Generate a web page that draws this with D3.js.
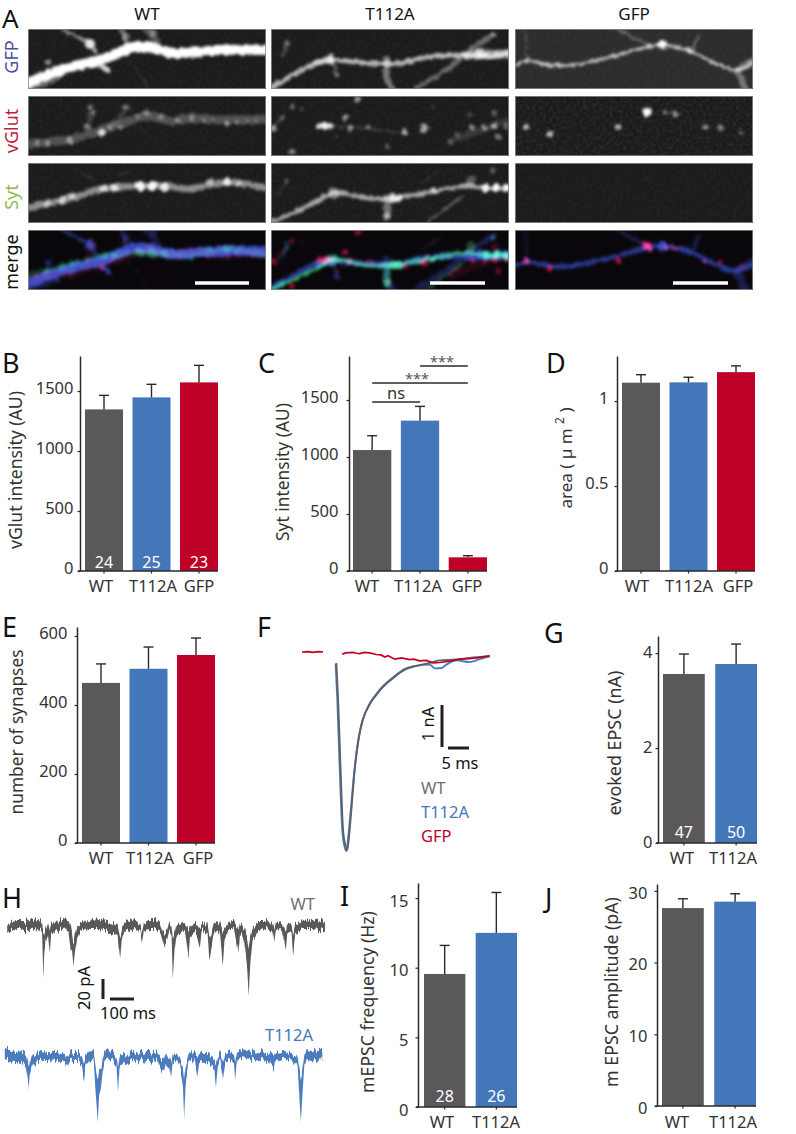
<!DOCTYPE html>
<html><head><meta charset="utf-8">
<script src="https://cdn.jsdelivr.net/npm/d3@7/dist/d3.min.js"></script>
<style>
html,body{margin:0;padding:0;background:#fff}
svg{display:block}
text{font-family:"Noto Sans",sans-serif;fill:#333}
</style></head><body>
<svg id="fig" width="796" height="1134"></svg>
<script>
/* ---------- data ---------- */
const cats3 = ["WT","T112A","GFP"];
const cats2 = ["WT","T112A"];
const vglutMean = [1347,1447,1572], vglutErr = [1464,1556,1714], vglutN = ["24","25","23"];
const sytMean = [1061,1319,120], sytErr = [1187,1444,134];
const areaMean = [1.108,1.11,1.17], areaErr = [1.155,1.14,1.207];
const synMean = [464,505,545], synErr = [519,568,594];
const eEpscMean = [3.56,3.77], eEpscErr = [3.98,4.19], eEpscN = ["47","50"];
const freqMean = [9.55,12.5], freqErr = [11.6,15.4], freqN = ["28","26"];
const ampMean = [27.6,28.5], ampErr = [28.9,29.6];
const ticksB = [0,500,1000,1500], ticksC = [0,500,1000,1500], ticksD = [0,0.5,1],
      ticksE = [0,200,400,600], ticksG = [0,2,4], ticksI = [0,5,10,15], ticksJ = [0,10,20,30];

/* evoked EPSC traces: [ms, nA] */
const epscWT = [[8.18,-.26],[8.57,-1.06],[9.13,-2.64],[9.77,-4.23],[10.4,-4.63],[10.8,-4.71],[11.2,-4.39],[11.75,-3.76],[12.55,-2.8],[13.34,-2.17],[13.9,-1.85],[14.5,-1.61],[16.1,-1.25],[17.7,-1.02],[19.3,-.83],[21.7,-.62],[24.5,-.42],[27.2,-.33],[30.4,-.26],[32.8,-.2],[36.8,-.18],[39.9,-.14],[44.7,-.1]];
const epscT112A = [[8.0,-.28],[8.4,-1.1],[8.95,-2.68],[9.6,-4.25],[10.2,-4.66],[10.6,-4.74],[11.0,-4.42],[11.6,-3.78],[12.5,-2.8],[13.3,-2.15],[13.9,-1.83],[14.5,-1.6],[16.1,-1.23],[17.7,-1.0],[19.3,-.81],[21.7,-.6],[24.5,-.4],[27.2,-.33],[30.4,-.3],[31.6,-.39],[33.2,-.38],[34.4,-.3],[36.8,-.2],[39.9,-.24],[42.3,-.17],[44.7,-.1]];
const epscGFP = [[0,0],[1.5,.01],[2.5,-.01],[4,.01],[5,0],null,[9.6,-.05],[10.4,-.02],[12.15,-.01],[13,-.03],[13.7,-.04],[14.8,-.01],[16.1,-.02],[17.7,-.06],[18.8,-.07],[19.7,-.12],[20.5,-.09],[21.3,-.13],[22.1,-.17],[23.7,-.14],[25.6,-.18],[26.6,-.17],[28,-.21],[29.6,-.2],[31.2,-.26],[32.8,-.25],[35.2,-.22],[37.6,-.17],[39.9,-.16],[42.3,-.13],[44.7,-.09]];

/* mEPSC recordings: [ms, upper pA, lower pA] */
const mWT = [[30,-2,-9],[42,3,-6],[70,4,-5],[100,4,-5],[130,5,-5],[160,6,-4],[175,2,-7],[180,-8,-52],[184,-10,-30],[190,-3,-15],[200,2,-10],[208,-6,-28],[213,1,-10],[230,4,-4],[260,5,-5],[285,6,-4],[295,0,-25],[300,-8,-25],[306,-20,-41],[312,-10,-30],[320,-2,-14],[335,2,-6],[370,4,-4],[410,6,-4],[450,4,-6],[490,0,-10],[501,-12,-33],[507,-5,-14],[520,2,-8],[560,6,-4],[585,0,-6],[593,-8,-18],[600,2,-5],[625,6,-4],[650,6,-4],[670,0,-7],[682,-8,-20],[695,-6,-15],[705,3,-5],[715,-3,-12],[720,-15,-55],[727,-8,-25],[735,2,-9],[770,3,-4],[785,-5,-32],[792,0,-10],[815,3,-5],[832,-3,-22],[840,2,-5],[865,0,-10],[872,-15,-38],[880,-10,-25],[895,4,-5],[915,3,-6],[928,-8,-41],[935,-5,-18],[950,3,-4],[975,4,-4],[993,-5,-28],[1000,2,-8],[1015,-2,-12],[1030,-12,-42],[1036,-22,-70],[1043,-12,-40],[1052,-3,-15],[1075,4,-5],[1110,4,-4],[1135,2,-6],[1143,-5,-18],[1150,2,-5],[1175,3,-4],[1191,-6,-23],[1197,3,-6],[1215,0,-8],[1221,-10,-32],[1230,0,-10],[1260,3,-5],[1300,4,-5],[1335,6,-4],[1354,3,-6]];
const mT112A = [[20,6,-4],[40,6,-6],[65,3,-7],[90,4,-8],[108,0,-12],[116,-8,-25],[119,-15,-36],[124,-8,-20],[135,0,-10],[160,4,-5],[200,3,-5],[240,3,-6],[270,1,-6],[275,-2,-10],[290,3,-5],[325,3,-5],[340,1,-8],[350,-6,-25],[356,0,-10],[375,6,-4],[390,3,-6],[398,-10,-35],[407,-25,-68],[413,-15,-40],[420,-15,-34],[428,-3,-15],[440,4,-4],[470,3,-6],[485,-4,-12],[492,-14,-37],[498,-2,-12],[515,2,-8],[530,-2,-10],[550,3,-6],[590,3,-5],[620,4,-6],[650,3,-5],[668,-3,-12],[675,-5,-17],[682,-5,-17],[690,3,-8],[705,-2,-12],[712,-8,-24],[720,0,-8],[740,-2,-8],[750,-5,-12],[762,-12,-30],[767,-25,-65],[773,-12,-30],[785,0,-8],[810,3,-5],[822,-3,-23],[830,3,-6],[850,3,-7],[870,3,-6],[893,-5,-15],[900,-10,-32],[908,-2,-10],[918,4,-5],[930,-8,-24],[938,0,-8],[960,3,-5],[975,0,-8],[980,-8,-26],[987,2,-6],[1005,5,-3],[1040,3,-5],[1085,4,-4],[1120,3,-5],[1140,-3,-17],[1147,2,-6],[1180,3,-4],[1215,2,-5],[1240,-2,-10],[1248,-15,-45],[1254,-25,-68],[1260,-15,-40],[1268,0,-10],[1280,7,-3],[1300,6,-4],[1320,4,-6],[1343,4,-5]];

/* micrograph structures: paths [points, width, opacity], spots [u, v, r, opacity] */
const gfpWT = {paths:[
  [[[0,54],[20,46],[39,39],[72,31],[90,24],[105,18],[125,19],[145,24],[170,23],[189,21],[238,21]],10,1],
  [[[35,1],[50,8],[62,15],[68,24]],3,.6],[[[93,0],[97,10],[100,18]],5,.35],[[[118,0],[126,8],[130,14]],7,.25],
  [[[73,36],[80,42]],5,.8],[[[100,30],[115,50],[120,60]],1,.2],[[[0,60],[30,50]],4,.35]],
  spots:[[62,15,5,.85],[20,33,3,.5],[98,8,4,.35],[125,3,4,.3]]};
const vglutWT = {paths:[
  [[[0,48],[20,46],[45,43],[70,35],[95,27],[120,20],[145,25],[160,22],[190,24],[238,23]],9,.24],
  [[[60,30],[64,10]],5,.16],[[[110,30],[135,50]],1,.1],[[[85,28],[100,12]],5,.14]],
  spots:[[9,47,2.5,.42],[19,47,2.5,.42],[42,44,3.5,.45],[74,37,3.5,.85],[59,31,2.5,.42],[62,11,2.5,.38],[97,11,2.5,.38],[119,17,3.5,.4],[92,31,2.5,.38],[132,21,2.5,.3],[150,25,2.5,.45],[164,22,2.5,.42],[199,27,2.5,.55],[209,26,2,.45],[185,24,2,.33],[219,25,2,.33],[65,17,2.5,.38],[82,31,2.5,.38],[110,20,2,.3],[176,25,2,.3],[228,24,2,.28]]};
const sytWT = {paths:[
  [[[0,45],[20,40],[45,35],[65,28],[80,25],[110,23],[145,24],[160,26],[180,22],[200,19],[238,25]],6.5,.5],
  [[[55,10],[65,17]],2,.12],[[[90,12],[100,8]],2,.12]],
  spots:[[19,41,3.5,.6],[34,37,3.5,.65],[44,33,3.5,.65],[76,26,4,.75],[86,25,4,.8],[112,23,5,.95],[124,23,5,.95],[136,24,4,.85],[199,19,4,.85],[182,19,3,.55],[210,21,3,.55]]};
const gfpT112A = {paths:[
  [[[0,59],[22,46],[46,34],[62,31],[96,34],[129,34],[156,28],[196,26],[222,27],[238,24]],5,.68],
  [[[196,26],[238,25]],9,.55],[[[146,59],[182,36],[199,21],[222,6]],4.5,.35],
  [[[16,14],[12,27]],3,.2],[[[46,34],[60,30]],7,.45],[[[62,32],[66,47]],3,.3],[[[116,30],[116,50],[122,60]],6,.4]],
  spots:[[60,30,5,.55],[16,14,3,.3],[210,24,5,.6],[222,6,3,.3],[66,47,3,.3]]};
const vglutT112A = {paths:[[[[52,30],[100,33],[134,38]],2.5,.14],[[[0,34],[12,21]],2,.25],[[[180,45],[235,25]],7,.12]],
  spots:[[2,32,3,.55],[12,21,2,.25],[21,11,2.5,.38],[31,12,2,.28],[48,30,3,.8],[54,30,4,.95],[60,30,3,.85],[74,22,3,.6],[79,32,3,.5],[87,3,3,.55],[97,31,2.5,.42],[117,51,2.5,.32],[21,56,3,.5],[66,41,2,.32],[134,36,3,.65],[153,32,4.5,.6],[201,31,3,.5],[224,30,3,.6],[214,32,3,.45],[227,41,3,.4],[186,39,3,.22],[179,45,3,.22],[224,17,3,.28],[199,19,3,.22],[162,11,2,.14],[235,30,3,.33]]};
const sytT112A = {paths:[
  [[[0,59],[22,50],[46,38],[62,30],[96,35],[122,35],[163,28],[196,23],[216,25],[238,25]],4.5,.62],
  [[[156,59],[192,33]],2.5,.32],[[[150,20],[170,7]],1.2,.14],[[[16,18],[6,33]],1.2,.22],[[[116,35],[116,53]],7,.38]],
  spots:[[62,30,6,.42],[122,35,4,.8],[128,35,4,.8],[215,25,4,.95],[225,25,4,1],[235,25,4,1],[222,7,2.5,.3],[16,18,2,.3],[116,53,4,.45],[163,28,3,.65],[200,17,5,.28]]};
const gfpGFP = {paths:[
  [[[0,36],[12,32],[35,36],[58,36],[98,27],[128,19],[147,16],[175,22],[195,32],[222,41],[238,34]],3,.7],
  [[[102,0],[133,16]],2,.35],[[[183,7],[178,21]],3,.3],[[[222,41],[230,59]],7,.35],[[[10,0],[12,32]],2,.14],[[[222,41],[238,30]],4,.35]],
  spots:[[147,16,5,1],[175,22,3,.55],[12,30,2.5,.45],[58,36,3,.45],[133,17,3,.55]]};
const vglutGFP = {paths:[[[[150,16],[165,18]],2,.25]],
  spots:[[11,31,3,.7],[35,38,3,.7],[103,31,3,.65],[132,16,4.5,1],[150,16,2.5,.45],[160,18,2.5,.45],[190,31,2.5,.55],[205,32,2.5,.45],[226,36,2.5,.38],[70,11,1.5,.1]]};
const sytGFP = {paths:[], spots:[[132,15,2.5,.08],[103,30,1.5,.05],[150,17,2,.04]]};

const columns = [
  {name:"WT", x0:28, gfp:gfpWT, vglut:vglutWT, syt:sytWT, green:.38, blue:.95, red:.42, bar:[195,249], fat:0},
  {name:"T112A", x0:271, gfp:gfpT112A, vglut:vglutT112A, syt:sytT112A, green:1, blue:1, red:.9, bar:[430,485], fat:1},
  {name:"GFP", x0:515, gfp:gfpGFP, vglut:vglutGFP, syt:sytGFP, green:1, blue:.95, red:1, bar:[673,728], fat:1.6}
];
const rowTops = [29,96,163,230];
const rowNames = [["GFP",57,"#4a4f9e"],["vGlut",131,"#be1e3c"],["Syt",197,"#8db84f"],["merge",262,"#111"]];

/* ---------- colours ---------- */
const GREY="#5a585a", BLUE="#4377b9", RED="#bf0027", DARK="#2b2a2b";
const colour3=[GREY,BLUE,RED];

const svg=d3.select("#fig");
const defs=svg.append("defs");

/* ---------- filters ---------- */
const soft=defs.append("filter").attr("id","soft").attr("x","-5%").attr("y","-20%").attr("width","110%").attr("height","140%").attr("color-interpolation-filters","sRGB");
soft.append("feTurbulence").attr("type","fractalNoise").attr("baseFrequency",.2).attr("numOctaves",2).attr("seed",4).attr("result","n");
soft.append("feDisplacementMap").attr("in","SourceGraphic").attr("in2","n").attr("scale",5).attr("xChannelSelector","R").attr("yChannelSelector","G").attr("result","d");
soft.append("feGaussianBlur").attr("in","d").attr("stdDeviation",1.7);
const grain=defs.append("filter").attr("id","grain").attr("x",0).attr("y",0).attr("width","100%").attr("height","100%");
grain.append("feTurbulence").attr("type","fractalNoise").attr("baseFrequency",.3).attr("numOctaves",2).attr("seed",9);
grain.append("feColorMatrix").attr("values","0 0 0 0 1  0 0 0 0 1  0 0 0 0 1  1.2 0 0 0 -.45");
grain.append("feGaussianBlur").attr("stdDeviation",.7);
const jag=defs.append("filter").attr("id","jag").attr("x","-2%").attr("y","-8%").attr("width","104%").attr("height","116%").attr("color-interpolation-filters","sRGB");
jag.append("feTurbulence").attr("type","fractalNoise").attr("baseFrequency","0.6 0.01").attr("numOctaves",2).attr("seed",7);
jag.append("feColorMatrix").attr("values","0 0 0 0 .5  0 1.8 0 0 -.4  0 0 0 0 .5  0 0 0 0 1").attr("result","n");
jag.append("feDisplacementMap").attr("in","SourceGraphic").attr("in2","n").attr("scale",7).attr("xChannelSelector","R").attr("yChannelSelector","G");

const U=d3.scaleLinear().domain([0,238]), V=d3.scaleLinear().domain([0,60]);
const dendrite=d3.line().curve(d3.curveCatmullRom);

function channel(g,data,x0,y0,color,gain,blend,fat){
  const xs=U.copy().range([x0,x0+238]), ys=V.copy().range([y0,y0+60]);
  const ch=g.append("g").attr("filter","url(#soft)").style("mix-blend-mode",blend||"normal");
  ch.selectAll("path").data(data.paths).join("path")
    .attr("d",d=>dendrite(d[0].map(p=>[xs(p[0]),ys(p[1])])))
    .attr("fill","none").attr("stroke",color).attr("stroke-linecap","round").attr("stroke-linejoin","round")
    .attr("stroke-width",d=>d[1]+(fat||0)).attr("stroke-opacity",d=>d[2]*gain);
  ch.selectAll("circle").data(data.spots).join("circle")
    .attr("cx",d=>xs(d[0])).attr("cy",d=>ys(d[1])).attr("r",d=>d[2])
    .attr("fill",color).attr("fill-opacity",d=>d[3]*gain);
}

columns.forEach((c,ci)=>{
  rowTops.forEach((y,ri)=>{
    const id=`clip${ci}${ri}`;
    defs.append("clipPath").attr("id",id).append("rect").attr("x",c.x0).attr("y",y).attr("width",238).attr("height",60);
    const g=svg.append("g").attr("clip-path",`url(#${id})`).style("isolation","isolate");
    const hazy=(ci===2&&ri===0);
    g.append("rect").attr("x",c.x0).attr("y",y).attr("width",238).attr("height",60)
      .attr("fill",ri===3?"#0a070c":(hazy?"#2c2c2c":"#1b1b1b"));
    if(ri<3){
      g.append("rect").attr("x",c.x0).attr("y",y).attr("width",238).attr("height",60)
        .attr("filter","url(#grain)").attr("opacity",ri===1&&ci===2?.12:.06);
      channel(g,[c.gfp,c.vglut,c.syt][ri],c.x0,y,"#fff",1);
    } else {
      channel(g,c.gfp,c.x0,y,"#2f49c8",c.blue,"screen",c.fat);
      channel(g,c.vglut,c.x0,y,"#ff1048",c.red,"screen");
      channel(g,c.syt,c.x0,y,"#30f070",c.green,"screen");
    }
    svg.append("rect").attr("x",c.x0+.5).attr("y",y+.5).attr("width",237).attr("height",59)
      .attr("fill","none").attr("stroke","#8a8a8a").attr("stroke-width",.8);
  });
  svg.append("text").attr("x",c.x0+119).attr("y",20).attr("text-anchor","middle").attr("font-size",17).style("fill","#111").text(c.name);
  svg.append("line").attr("x1",c.bar[0]).attr("x2",c.bar[1]).attr("y1",283).attr("y2",283).attr("stroke","#fff").attr("stroke-width",3.5);
});
rowNames.forEach(r=>{
  svg.append("text").attr("transform",`translate(13,${r[1]}) rotate(-90)`)
    .attr("text-anchor","middle").attr("dominant-baseline","middle").attr("font-size",18).style("fill",r[2]).text(r[0]);
});

/* ---------- panel letters ---------- */
const letters=[["A",2,28,26],["B",2,373,27],["C",258,373,27],["D",546,373,27],["E",2,637,27],["F",257,637,27],["G",544,643,27],["H",2,908,27],["I",340,906,27],["J",545,908,27]];
svg.selectAll("text.letter").data(letters).join("text").attr("class","letter")
  .attr("x",d=>d[1]).attr("y",d=>d[2]).attr("font-size",d=>d[3]).style("fill","#111").text(d=>d[0]);

/* ---------- bar panels ---------- */
function fit(sel,len){
  const n=sel.node(), l=n.getComputedTextLength();
  sel.attr("font-size",16.5*len/l);
}
function barPanel(o){
  const y=d3.scaleLinear().domain([0,o.top]).range([o.y0,o.yTop]);
  const x=d3.scaleBand().domain(o.cats).range(o.xr).paddingInner(.2);
  const g=svg.append("g");
  g.selectAll("rect").data(o.cats).join("rect")
    .attr("x",d=>x(d)).attr("width",x.bandwidth())
    .attr("y",(d,i)=>y(o.mean[i])).attr("height",(d,i)=>o.y0-y(o.mean[i]))
    .attr("fill",(d,i)=>colour3[i]);
  const capW=5;
  o.cats.forEach((d,i)=>{
    const cx=x(d)+x.bandwidth()/2;
    g.append("line").attr("x1",cx).attr("x2",cx).attr("y1",y(o.mean[i])).attr("y2",y(o.err[i])).attr("stroke",DARK).attr("stroke-width",1.4);
    g.append("line").attr("x1",cx-capW).attr("x2",cx+capW).attr("y1",y(o.err[i])).attr("y2",y(o.err[i])).attr("stroke",DARK).attr("stroke-width",1.4);
  });
  if(o.n) g.selectAll("text.n").data(o.n).join("text").attr("class","n")
    .attr("x",(d,i)=>x(o.cats[i])+x.bandwidth()/2).attr("y",o.nY).attr("text-anchor","middle")
    .attr("font-size",16).style("fill","#fff").text(d=>d);
  const ax=g.append("g").attr("transform",`translate(${o.ax},0)`)
    .call(d3.axisLeft(y).tickValues(o.ticks).tickFormat(d=>d).tickSize(2.5).tickSizeOuter(0).tickPadding(o.pad));
  ax.select(".domain").attr("stroke",DARK).attr("stroke-width",1.5);
  ax.selectAll(".tick line").attr("stroke",DARK).attr("stroke-width",1.2);
  ax.selectAll(".tick text").attr("font-size",16.5).attr("dy",`${.32+o.tdy/16.5}em`).style("font-family",'"Noto Sans",sans-serif').style("fill","#333");
  const bx=g.append("g").attr("transform",`translate(0,${o.y0})`)
    .call(d3.axisBottom(x).tickFormat("").tickSize(2.5).tickSizeOuter(0));
  bx.select(".domain").remove();
  bx.selectAll(".tick line").attr("stroke",DARK).attr("stroke-width",1.2);
  g.append("line").attr("x1",o.ax-2).attr("x2",o.xr[1]).attr("y1",o.y0).attr("y2",o.y0).attr("stroke",DARK).attr("stroke-width",1.5);
  g.selectAll("text.cat").data(o.cats).join("text").attr("class","cat")
    .attr("x",(d,i)=>o.lx[i]).attr("y",o.ly).attr("text-anchor","middle").attr("font-size",16.5).text(d=>d);
  const yl=g.append("text").attr("transform",`translate(${o.yl[0]},${o.yl[1]}) rotate(-90)`)
    .attr("text-anchor","middle").attr("dominant-baseline","middle").attr("font-size",16.5);
  if(o.ylabel){ yl.text(o.ylabel); fit(yl,o.yLen); }
  return {x,y,yl};
}

barPanel({cats:cats3,mean:vglutMean,err:vglutErr,n:vglutN,nY:568,top:1792,y0:571,yTop:356,xr:[85,218],ax:80,pad:4,tdy:-3,ticks:ticksB,lx:[101,153,199],ly:592,yl:[17,470],ylabel:"vGlut intensity (AU)",yLen:158});
const pC=barPanel({cats:cats3,mean:sytMean,err:sytErr,top:1886,y0:571,yTop:356,xr:[353,487],ax:349,pad:8,tdy:-3,ticks:ticksC,lx:[367,418,467],ly:592,yl:[284,472],ylabel:"Syt intensity (AU)",yLen:138});
const pD=barPanel({cats:cats3,mean:areaMean,err:areaErr,top:1.265,y0:571,yTop:356,xr:[622,755],ax:617,pad:6,tdy:-3,ticks:ticksD,lx:[637,689,738],ly:592,yl:[567,458]});
pD.yl.attr("font-size",17);
pD.yl.append("tspan").text("area ( µ m ");
pD.yl.append("tspan").attr("font-size",12).attr("dy",-6).text("2");
pD.yl.append("tspan").attr("dy",6).text(" )");
barPanel({cats:cats3,mean:synMean,err:synErr,top:626,y0:843,yTop:627,xr:[82,215],ax:77,pad:7,tdy:-3,ticks:ticksE,lx:[101,150,198],ly:864,yl:[18,732],ylabel:"number of synapses",yLen:165});
barPanel({cats:cats2,mean:eEpscMean,err:eEpscErr,n:eEpscN,nY:838,top:4.36,y0:843,yTop:636,xr:[663,757],ax:658,pad:3,tdy:-1,ticks:ticksG,lx:[682,733],ly:864,yl:[616,743],ylabel:"evoked EPSC (nA)",yLen:145});
barPanel({cats:cats2,mean:freqMean,err:freqErr,n:freqN,nY:1102,top:16.08,y0:1107,yTop:883,xr:[424,517],ax:418,pad:7,tdy:3,ticks:ticksI,lx:[442,496],ly:1128,yl:[369,1002],ylabel:"mEPSC frequency (Hz)",yLen:182});
barPanel({cats:cats2,mean:ampMean,err:ampErr,top:30.96,y0:1106,yTop:884,xr:[662,756],ax:657,pad:7,tdy:2,ticks:ticksJ,lx:[677,733],ly:1128,yl:[613,992],ylabel:"m EPSC amplitude (pA)",yLen:190});

/* significance marks, panel C */
const sig=[["WT","T112A",402,"ns",399,396,"#333",16.5],["WT","GFP",383,"***",384,417,"#555",14.5],["T112A","GFP",366,"***",367,442,"#555",14.5]];
sig.forEach(s=>{
  const c=d=>pC.x(d)+pC.x.bandwidth()/2;
  svg.append("line").attr("x1",c(s[0])).attr("x2",c(s[1])).attr("y1",s[2]).attr("y2",s[2]).attr("stroke",DARK).attr("stroke-width",1.3);
  svg.append("text").attr("x",s[5]).attr("y",s[4]).attr("text-anchor","middle").attr("font-size",s[7]).style("fill",s[6]).text(s[3]);
});

/* ---------- F: evoked trace ---------- */
const tF=d3.scaleLinear().domain([0,50]).range([302,512]);
const iF=d3.scaleLinear().domain([0,-5]).range([652,862]);
const lineF=d3.line().defined(d=>d!==null).x(d=>tF(d[0])).y(d=>iF(d[1]));
svg.append("path").attr("d",lineF.curve(d3.curveMonotoneX)(epscT112A)).attr("fill","none").attr("stroke","#4b7dbf").attr("stroke-width",1.9);
svg.append("path").attr("d",lineF.curve(d3.curveMonotoneX)(epscWT)).attr("fill","none").attr("stroke","#5e6168").attr("stroke-width",1.9);
svg.append("path").attr("d",lineF.curve(d3.curveLinear)(epscGFP)).attr("fill","none").attr("stroke",RED).attr("stroke-width",1.7);
const scaleBar=(x1,y1,x2,y2)=>svg.append("line").attr("x1",x1).attr("y1",y1).attr("x2",x2).attr("y2",y2).attr("stroke","#231f20").attr("stroke-width",3);
scaleBar(442,705,442,747); scaleBar(448,748,469,748);
svg.append("text").attr("transform","translate(430,724) rotate(-90)").attr("text-anchor","middle").attr("dominant-baseline","middle").attr("font-size",16.5).style("fill","#111").text("1 nA");
svg.append("text").attr("x",460).attr("y",769).attr("text-anchor","middle").attr("font-size",16.5).style("fill","#111").text("5 ms");
[["WT",794,"#6d6e71"],["T112A",818,BLUE],["GFP",842,RED]].forEach(d=>{
  svg.append("text").attr("x",421).attr("y",d[1]).attr("font-size",16.5).style("fill",d[2]).text(d[0]);
});

/* ---------- H: mEPSC traces ---------- */
const tH=d3.scaleLinear().domain([0,1000]).range([0,240]);
function recording(d,y0,c){
  const yy=d3.scaleLinear().domain([0,-100]).range([y0,y0+100]);
  const a=d3.area().x(p=>tH(p[0])).y0(p=>yy(p[2])).y1(p=>yy(p[1])).curve(d3.curveLinear);
  svg.append("path").attr("d",a(d)).attr("fill",c).attr("filter","url(#jag)");
}
recording(mWT,925,"#5a585a");
recording(mT112A,1055,"#4a7cbe");
scaleBar(103,979,103,999); scaleBar(110,999,134,999);
svg.append("text").attr("transform","translate(86,988) rotate(-90)").attr("text-anchor","middle").attr("dominant-baseline","middle").attr("font-size",16.5).style("fill","#111").text("20 pA");
svg.append("text").attr("x",128).attr("y",1019).attr("text-anchor","middle").attr("font-size",16.5).style("fill","#111").text("100 ms");
svg.append("text").attr("x",315).attr("y",910).attr("text-anchor","end").attr("font-size",16.5).style("fill","#6d6e71").text("WT");
svg.append("text").attr("x",289).attr("y",1041).attr("text-anchor","middle").attr("font-size",16.5).style("fill",BLUE).text("T112A");
</script>
</body></html>
